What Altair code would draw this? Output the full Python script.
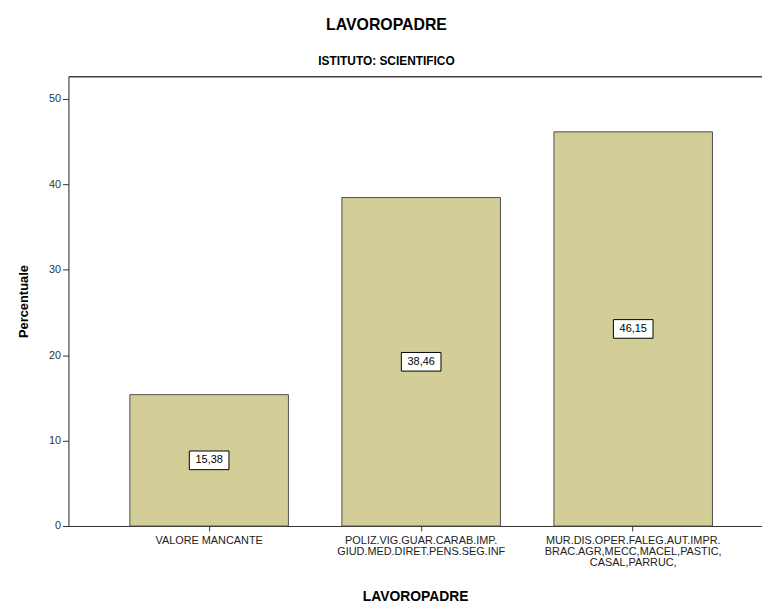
import altair as alt
import pandas as pd

categories = [
    "VALORE MANCANTE",
    "POLIZ.VIG.GUAR.CARAB.IMP.\nGIUD.MED.DIRET.PENS.SEG.INF",
    "MUR.DIS.OPER.FALEG.AUT.IMPR.\nBRAC.AGR,MECC,MACEL,PASTIC,\nCASAL,PARRUC,",
]
percentages = [15.38, 38.46, 46.15]
y_ticks = [0, 10, 20, 30, 40, 50]

df = pd.DataFrame({"cat": categories, "pct": percentages})

FONT = "Liberation Sans, Arial, sans-serif"

x_scale = alt.Scale(domain=categories, paddingInner=0.2523, paddingOuter=0.2617, align=0.5536)
y_scale = alt.Scale(domain=[0, 52.67], nice=False, zero=True)

y_axis = alt.Axis(title="Percentuale", values=y_ticks, grid=False,
                  labelFont=FONT, labelFontSize=11, labelColor="#333",
                  labelPadding=2, tickSize=6, tickColor="#333",
                  domainColor="#333",
                  titleFont=FONT, titleFontSize=13, titleFontWeight="bold",
                  titleColor="#000", titlePadding=18)

base = alt.Chart(df)

bars = base.mark_bar(fill="#D3CE97", stroke="#4D4D4D", strokeWidth=1).encode(
    x=alt.X("cat:N", sort=categories, scale=x_scale,
            axis=alt.Axis(title="LAVOROPADRE", labelAngle=0,
                          labelExpr="split(datum.label, '\\n')",
                          labelFont=FONT, labelFontSize=11, labelColor="#222",
                          labelLineHeight=11, labelPadding=4,
                          tickSize=5, tickColor="#333", domainColor="#333",
                          titleFont=FONT, titleFontSize=14, titleFontWeight="bold",
                          titleColor="#000", titlePadding=22)),
    y=alt.Y("pct:Q", scale=y_scale, axis=y_axis),
)

boxes = base.transform_calculate(mid="datum.pct / 2").mark_point(
    shape="M-1,-0.47L1,-0.47L1,0.47L-1,0.47Z", filled=True, fill="#FFFFFF",
    stroke="#000000", strokeWidth=1, opacity=1, size=1600
).encode(
    x=alt.X("cat:N", sort=categories, scale=x_scale, axis=None),
    y=alt.Y("mid:Q", scale=y_scale, axis=y_axis),
)

labels = base.transform_calculate(
    mid="datum.pct / 2",
    txt="replace(format(datum.pct, '.2f'), '.', ',')",
).mark_text(font=FONT, fontSize=11, color="#000", baseline="middle").encode(
    x=alt.X("cat:N", sort=categories, scale=x_scale,
            axis=alt.Axis(orient="top", labels=False, ticks=False, title=None,
                          domainColor="#444", domainWidth=1.5)),
    y=alt.Y("mid:Q", scale=y_scale, axis=y_axis),
    text="txt:N",
)

chart = alt.layer(bars, boxes, labels).resolve_axis(x="independent").properties(
    width=700,
    height=454,
    autosize=alt.AutoSizeParams(type="none"),
    padding={"left": 61, "top": 66, "right": 0, "bottom": 86},
    title=alt.Title(
        text="LAVOROPADRE",
        subtitle="ISTITUTO: SCIENTIFICO",
        anchor="middle",
        dx=-29,
        offset=9,
        font=FONT,
        fontSize=16,
        fontWeight="bold",
        color="#000",
        subtitleFont=FONT,
        subtitleFontSize=12,
        subtitleFontWeight="bold",
        subtitleColor="#000",
        subtitlePadding=24,
    ),
).configure_view(
    fill="#F0F0F0", stroke=None
).configure(background="#FFFFFF")

chart.save("out.html", embed_options={"renderer": "svg", "actions": False})
